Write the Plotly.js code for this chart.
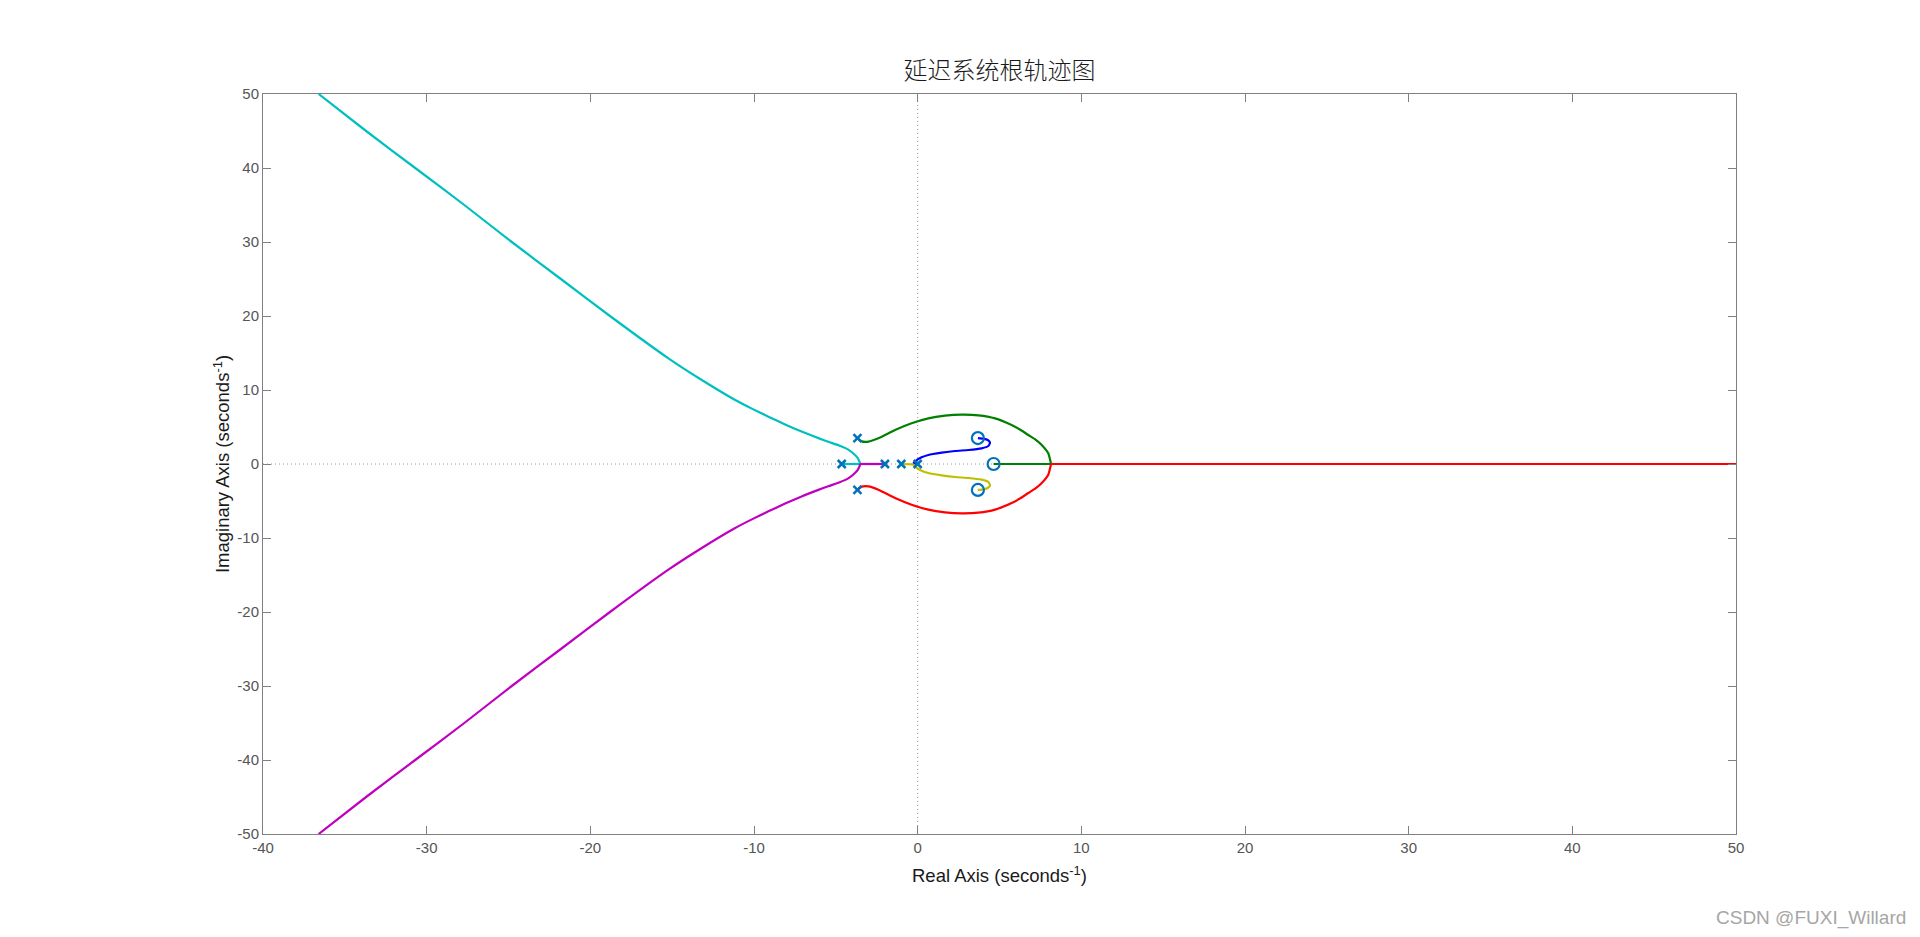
<!DOCTYPE html>
<html><head><meta charset="utf-8">
<script src="https://cdn.plot.ly/plotly-3.0.1.min.js"></script>
<style>html,body{margin:0;padding:0;background:#fff;}#chart{width:1920px;height:937px;}</style>
</head><body><div id="chart"></div>
<script>
// Poles (x) and zeros (o)
const poleRe = [0, -1, -2, -4.64, -3.68, -3.68];
const poleIm = [0, 0, 0, 0, 3.5, -3.5];
const zeroRe = [4.64, 3.68, 3.68];
const zeroIm = [0, 3.5, -3.5];

// Branches (first point = start pole, second = where the branch leaves the real axis)
const cyanRe = [-4.64, -3.52, -3.55, -3.66, -3.83, -4.24, -4.8, -5.46, -6.07, -7.09, -8.1, -9.12, -10.1, -11.15, -13.19, -15.23, -18.8, -21.8, -24.8, -27.7, -30.7, -33.7, -36.6];
const cyanIm = [0, 0, 0.3, 0.8, 1.22, 1.95, 2.5, 3.0, 3.5, 4.38, 5.35, 6.4, 7.45, 8.65, 11.35, 14.28, 20, 25, 30, 35, 40, 45, 50];
const magentaRe = [-2, -3.52, -3.55, -3.66, -3.83, -4.24, -4.8, -5.46, -6.07, -7.09, -8.1, -9.12, -10.1, -11.15, -13.19, -15.23, -18.8, -21.8, -24.8, -27.7, -30.7, -33.7, -36.6];
const magentaIm = [0, 0, -0.3, -0.8, -1.22, -1.95, -2.5, -3.0, -3.5, -4.38, -5.35, -6.4, -7.45, -8.65, -11.35, -14.28, -20, -25, -30, -35, -40, -45, -50];
// green / red: curve ends on the real axis, last point = end of the real-axis segment
const greenRe = [-3.68, -3.42, -3.01, -2.40, -1.38, -0.37, 0.65, 1.67, 2.69, 3.71, 4.73, 5.74, 6.3, 6.76, 7.2, 7.58, 7.98, 8.15, 4.64];
const greenIm = [3.5, 3.06, 3.02, 3.47, 4.59, 5.50, 6.17, 6.53, 6.67, 6.58, 6.17, 5.27, 4.6, 3.92, 3.3, 2.57, 1.44, 0, 0];
const redRe = [-3.68, -3.42, -3.01, -2.40, -1.38, -0.37, 0.65, 1.67, 2.69, 3.71, 4.73, 5.74, 6.3, 6.76, 7.2, 7.58, 7.98, 8.15, 50];
const redIm = [-3.5, -3.06, -3.02, -3.47, -4.59, -5.50, -6.17, -6.53, -6.67, -6.58, -6.17, -5.27, -4.6, -3.92, -3.3, -2.57, -1.44, 0, 0];
const blueRe = [0, -0.26, -0.16, 0.24, 0.65, 1.47, 2.28, 3.10, 3.91, 4.32, 4.42, 4.28, 4.01, 3.68];
const blueIm = [0, 0.05, 0.36, 0.90, 1.22, 1.53, 1.76, 1.89, 2.12, 2.43, 2.88, 3.24, 3.42, 3.5];
const yellowRe = [-1, -0.26, -0.16, 0.24, 0.65, 1.47, 2.28, 3.10, 3.91, 4.32, 4.42, 4.28, 4.01, 3.68];
const yellowIm = [0, -0.05, -0.36, -0.90, -1.22, -1.53, -1.76, -1.89, -2.12, -2.43, -2.88, -3.24, -3.42, -3.5];

const xTicks = [-40, -30, -20, -10, 0, 10, 20, 30, 40, 50];
const yTicks = [-50, -40, -30, -20, -10, 0, 10, 20, 30, 40, 50];
const xRange = [-40, 50];
const yRange = [-50, 50];

const titleText = '延迟系统根轨迹图';
const xTitle = 'Real Axis (seconds<sup>-1</sup>)';
const yTitle = 'Imaginary Axis (seconds<sup>-1</sup>)';
const watermark = 'CSDN @FUXI_Willard';

function seg(x, y, color, smooth) {
  return {x: x, y: y, type: 'scatter', mode: 'lines', hoverinfo: 'skip',
          line: smooth ? {color: color, width: 2.2, shape: 'spline', smoothing: 0.5} : {color: color, width: 2.2}};
}
// branch that first runs along the real axis, then curves away
function startAxis(re, im, color) {
  return [seg(re.slice(0, 2), im.slice(0, 2), color, false), seg(re.slice(1), im.slice(1), color, true)];
}
// branch that curves in, then runs along the real axis
function endAxis(re, im, color) {
  const n = re.length;
  return [seg(re.slice(0, n - 1), im.slice(0, n - 1), color, true), seg(re.slice(n - 2), im.slice(n - 2), color, false)];
}

const data = [
  {x: xRange, y: [0, 0], type: 'scatter', mode: 'lines', line: {color: '#9a9a9a', width: 1, dash: '1px,3px'}, hoverinfo: 'skip'},
  {x: [0, 0], y: yRange, type: 'scatter', mode: 'lines', line: {color: '#9a9a9a', width: 1, dash: '1px,3px'}, hoverinfo: 'skip'}
].concat(
  startAxis(cyanRe, cyanIm, '#00BFBF'),
  startAxis(magentaRe, magentaIm, '#BF00BF'),
  endAxis(greenRe, greenIm, '#008000'),
  endAxis(redRe, redIm, '#FF0000'),
  startAxis(blueRe, blueIm, '#0000FF'),
  startAxis(yellowRe, yellowIm, '#BFBF00'),
  [
    {x: poleRe, y: poleIm, type: 'scatter', mode: 'markers', hoverinfo: 'skip',
     marker: {symbol: 'x-thin', size: 8, color: '#0072BD', line: {color: '#0072BD', width: 2.5}}},
    {x: zeroRe, y: zeroIm, type: 'scatter', mode: 'markers', hoverinfo: 'skip',
     marker: {symbol: 'circle-open', size: 12, color: '#0072BD', line: {color: '#0072BD', width: 2.2}}}
  ]
);

const axisCommon = {
  showgrid: false, zeroline: false, showline: true, linecolor: '#808080', linewidth: 1,
  mirror: 'allticks', ticks: 'inside', ticklen: 8, tickcolor: '#808080', tickwidth: 1,
  tickfont: {family: 'Liberation Sans, Arial, sans-serif', size: 15, color: '#555555'}
};

const layout = {
  width: 1920, height: 937,
  paper_bgcolor: '#ffffff', plot_bgcolor: '#ffffff',
  showlegend: false,
  margin: {l: 263, r: 184, t: 94, b: 103},
  title: {text: titleText, xref: 'paper', x: 0.5, xanchor: 'center', yref: 'container', y: 0.925, yanchor: 'middle',
          font: {family: 'Noto Sans CJK SC, sans-serif', size: 24, color: '#1a1a1a', weight: 300}},
  xaxis: Object.assign({}, axisCommon, {
    range: xRange, tickvals: xTicks, ticktext: xTicks.map(String),
    title: {text: xTitle, standoff: 14, font: {family: 'Liberation Sans, Arial, sans-serif', size: 18.5, color: '#1a1a1a'}}
  }),
  yaxis: Object.assign({}, axisCommon, {
    range: yRange, tickvals: yTicks, ticktext: yTicks.map(String),
    title: {text: yTitle, standoff: 2, font: {family: 'Liberation Sans, Arial, sans-serif', size: 18.5, color: '#1a1a1a'}}
  }),
  annotations: [{
    text: watermark, xref: 'paper', yref: 'paper', x: 1, y: 0, xanchor: 'right', yanchor: 'middle',
    xshift: 172, yshift: -84, showarrow: false,
    font: {family: 'Liberation Sans, Arial, sans-serif', size: 19, color: '#a6a6a6'}
  }]
};

Plotly.newPlot('chart', data, layout, {displayModeBar: false, staticPlot: true});
</script>
</body></html>
